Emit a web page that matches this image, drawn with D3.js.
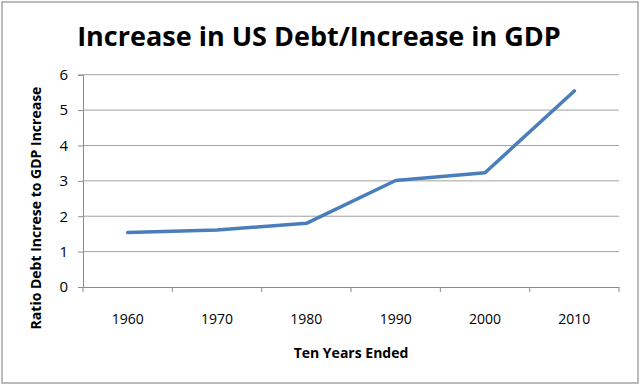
<!DOCTYPE html>
<html>
<head>
<meta charset="utf-8">
<script src="https://cdnjs.cloudflare.com/ajax/libs/d3/7.8.5/d3.min.js"></script>
<style>
  body { margin: 0; background: #fff; }
  svg { display: block; }
  text { font-family: "Open Sans", "Noto Sans", sans-serif; fill: #000; }
</style>
</head>
<body>
<div id="chart"></div>
<script>
// data
var years = ["1960", "1970", "1980", "1990", "2000", "2010"];
var ratios = [1.54, 1.61, 1.80, 3.01, 3.23, 5.54];
var yTicks = [0, 1, 2, 3, 4, 5, 6];

var W = 640, H = 385;
var margin = {top: 74.7, right: 21, bottom: 98, left: 83};
var width = W - margin.left - margin.right;
var height = H - margin.top - margin.bottom;

var svg = d3.select("#chart").append("svg")
    .attr("width", W)
    .attr("height", H);

// outer frame
svg.append("rect")
  .attr("x", 2).attr("y", 2)
  .attr("width", W - 4).attr("height", H - 4)
  .attr("fill", "none")
  .attr("stroke", "#a6a6a6")
  .attr("stroke-width", 1.5);

var g = svg.append("g")
    .attr("transform", "translate(" + margin.left + "," + margin.top + ")");

var x = d3.scaleBand()
    .domain(years)
    .range([0, width]);

var y = d3.scaleLinear()
    .domain([0, 6])
    .range([height, 0]);

// gridlines
g.selectAll(".grid")
  .data(yTicks.filter(function(d) { return d > 0; }))
  .enter().append("line")
  .attr("class", "grid")
  .attr("x1", 0).attr("x2", width)
  .attr("y1", function(d) { return y(d); })
  .attr("y2", function(d) { return y(d); })
  .attr("stroke", "#a0a0a0")
  .attr("stroke-width", 1);

// y axis
var yAxis = g.append("g")
  .call(d3.axisLeft(y).tickValues(yTicks).tickFormat(d3.format("d")).tickSize(5).tickPadding(10));
yAxis.select(".domain").attr("stroke", "#8c8c8c");
yAxis.selectAll(".tick line").attr("stroke", "#8c8c8c");
yAxis.selectAll("text")
  .style("font-size", "15px")
  .attr("fill", "#000");

// x axis, ticks on band edges
var xAxis = g.append("g")
  .attr("transform", "translate(0," + height + ")")
  .call(d3.axisBottom(x).tickSize(0).tickPadding(27));
xAxis.select(".domain").attr("stroke", "#8c8c8c");
xAxis.selectAll("text")
  .style("font-size", "14px")
  .attr("fill", "#000");

var edges = years.map(function(d) { return x(d); }).concat([width]);
xAxis.selectAll(".edge")
  .data(edges)
  .enter().append("line")
  .attr("class", "edge")
  .attr("x1", function(d) { return d; })
  .attr("x2", function(d) { return d; })
  .attr("y1", 0).attr("y2", 5)
  .attr("stroke", "#8c8c8c");

// the line
var line = d3.line()
  .x(function(d, i) { return x(years[i]) + x.bandwidth() / 2; })
  .y(function(d) { return y(d); });

g.append("path")
  .datum(ratios)
  .attr("d", line)
  .attr("fill", "none")
  .attr("stroke", "#4a7ebb")
  .attr("stroke-width", 3.5)
  .attr("stroke-linejoin", "round")
  .attr("stroke-linecap", "round");

// title and axis titles
svg.append("text")
  .attr("x", 319)
  .attr("y", 46)
  .attr("text-anchor", "middle")
  .style("font-size", "27px")
  .style("font-weight", "bold")
  .text("Increase in US Debt/Increase in GDP");

svg.append("text")
  .attr("x", margin.left + width / 2)
  .attr("y", 358)
  .attr("text-anchor", "middle")
  .style("font-size", "14px")
  .style("font-weight", "bold")
  .text("Ten Years Ended");

svg.append("text")
  .attr("transform", "translate(41,208) rotate(-90)")
  .attr("text-anchor", "middle")
  .style("font-size", "14px")
  .style("font-weight", "bold")
  .text("Ratio Debt Increse to GDP Increase");
</script>
</body>
</html>
